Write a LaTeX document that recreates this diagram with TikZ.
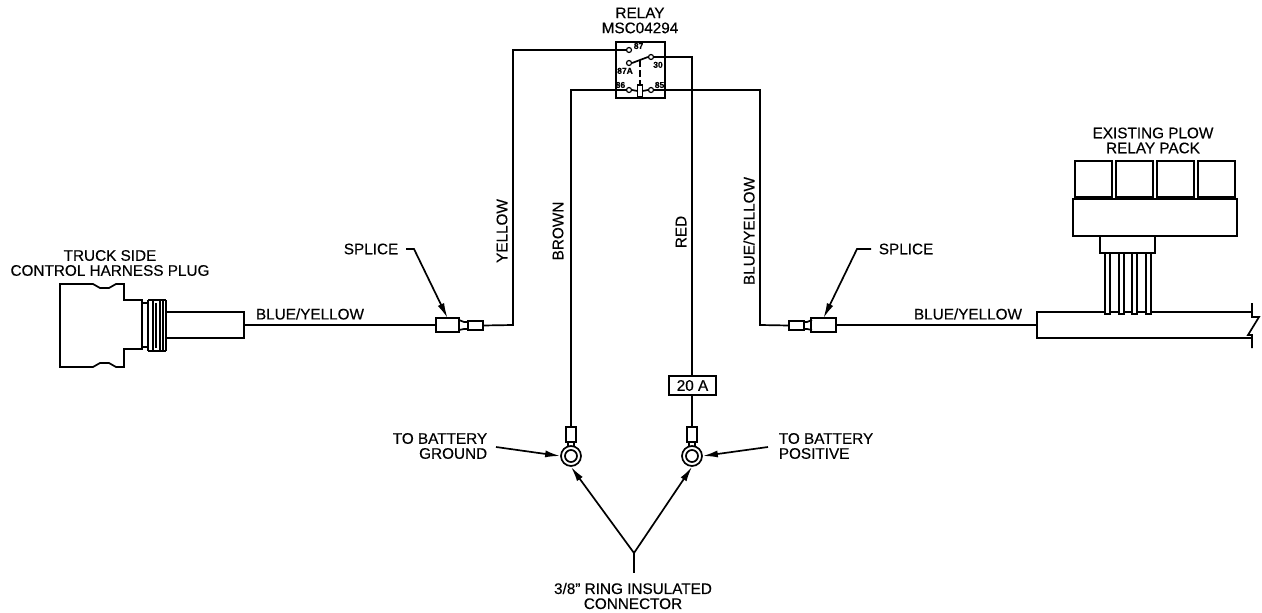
\documentclass[tikz,border=0pt]{standalone}
\usepackage{fontspec}
\setmainfont[FakeBold=0.35]{Liberation Sans}
\usepackage{tikz}
\usetikzlibrary{positioning}
\usetikzlibrary{arrows.meta}
\usetikzlibrary{calc}

\begin{document}
\begin{tikzpicture}[ x = 1pt
                     , y = -1pt
                     , line width = 1.7pt
                     , >={Latex[width=7pt, length=15pt]}
                     , font = \fontsize{15.3}{15}\selectfont
                     ]

    \tikzset{ label/.style = {inner sep=0pt, align=center}
            , tiny/.style = {inner sep=0pt, font=\fontsize{8.5}{8}\selectfont\bfseries}
            , box/.style = {rectangle, draw=black, inner sep=0pt, outer sep=0pt, fill=white}
            , term/.style = {circle, draw=black, fill=white, inner sep=0pt, minimum size=5pt, line width=1.2pt}
            , lug/.style = {box, minimum width=10pt, minimum height=15pt}
            , tab/.style = {box, minimum width=15pt, minimum height=9pt}
            , pin/.style = {box, minimum width=5pt, minimum height=61pt}
            , ring/.style = {circle, draw=black, fill=white, inner sep=0pt, minimum size=20pt}
            , hole/.style = {circle, draw=black, inner sep=0pt, minimum size=12pt}
            , relaycell/.style = {box, minimum width=37pt, minimum height=36pt}}
    \useasboundingbox (0,0) rectangle (1262,613);
    %%
    %% Nodes
    %%
    \node (relay)    [box, minimum width=49pt, minimum height=56pt] at (640.5,70) {};
    \node (relaytxt) [label] at (640,20.5) {RELAY\\MSC04294};
    \node (t87)      [term] at (629,50) {};
    \node (t30)      [term] at (651,57) {};
    \node (t87a)     [term] at (629,63) {};
    \node (t86)      [term] at (629,90) {};
    \node (t85)      [term] at (651,90) {};
    \node (coil)     [box, minimum width=5pt, minimum height=12pt] at (640,91) {};
    \node (l87)      [tiny, anchor=west] at (633,46) {87};
    \node (l30)      [tiny, anchor=north] at (658,61) {30};
    \node (l87a)     [tiny, anchor=north] at (625,67) {87A};
    \node (l86)      [tiny, anchor=east] at (626,85) {86};
    \node (l85)      [tiny, anchor=west] at (654,85) {85};

    \node (truck)    [label] at (110,263) {TRUCK SIDE\\CONTROL HARNESS PLUG};
    \node (cable)    [box, minimum width=78pt, minimum height=26pt] at (205,325) {};

    \node (spliceA)  [box, minimum width=23pt, minimum height=14pt, line width=2pt] at (447.5,325) {};
    \node (tabA)     [tab] at (475.5,325.5) {};
    \node (spliceB)  [box, minimum width=25pt, minimum height=14pt, line width=2pt] at (823.5,325) {};
    \node (tabB)     [tab] at (796.5,325.5) {};
    \node (spltxtA)  [label, anchor=west] at (343,249) {SPLICE};
    \node (spltxtB)  [label, anchor=west] at (878,249) {SPLICE};

    \node (lugG)     [lug] at (571,434.5) {};
    \node (lugP)     [lug] at (692,434.5) {};
    \node (ringG)    [ring] at (571,456) {};
    \node (holeG)    [hole] at (571,456) {};
    \node (ringP)    [ring] at (692,456) {};
    \node (holeP)    [hole] at (692,456) {};
    \node (fuse)     [box, minimum width=47pt, minimum height=19pt] at (692.5,385.5) {20 A};

    \node (gndtxt)   [label, align=right, anchor=east] at (488,446) {TO BATTERY\\GROUND};
    \node (postxt)   [label, align=left, anchor=west] at (778,446) {TO BATTERY\\POSITIVE};
    \node (ringtxt)  [label] at (633,596) {3/8" RING INSULATED\\CONNECTOR};

    \node (packtxt)  [label] at (1153,140.5) {EXISTING PLOW\\RELAY PACK};
    \node (cellA)    [relaycell] at (1093.5,179) {};
    \node (cellB)    [relaycell, right = 4pt of cellA] {};
    \node (cellC)    [relaycell, right = 4pt of cellB] {};
    \node (cellD)    [relaycell, right = 4pt of cellC] {};
    \node (base)     [box, minimum width=164pt, minimum height=37pt] at (1155,217.5) {};
    \node (neck)     [box, minimum width=55pt, minimum height=17pt] at (1127.5,244.5) {};

    \node (ylwtxt)   [label, rotate=90] at (502,231) {YELLOW};
    \node (brntxt)   [label, rotate=90] at (558,231) {BROWN};
    \node (redtxt)   [label, rotate=90] at (681,232) {RED};
    \node (byrtxt)   [label, rotate=90] at (749,231) {BLUE/YELLOW};
    \node (bytxtA)   [label] at (310,314) {BLUE/YELLOW};
    \node (bytxtB)   [label] at (968,314) {BLUE/YELLOW};

    \coordinate (cornerA) at (513,325);
    \coordinate (cornerB) at (760,325);
    \coordinate (cornerC) at (692,57);
    \coordinate (fork)    at (634,553);
    \coordinate (forkend) at (634,573);
    \coordinate (bendA)   at (414,249);
    \coordinate (bendB)   at (857,249);
    \coordinate (gndtail) at (496,447);
    \coordinate (postail) at (768,447);
    \coordinate (busL)    at (1037,312);
    \coordinate (busM)    at (1037,325);
    \coordinate (busB)    at (1037,338);
    \coordinate (busT)    at (1252,312);
    \coordinate (busE)    at (1252,338);
    %%
    %% Plug and other outlines
    %%
    \draw (124,349) -- (124,367) -- (116,367) -- (109,363) -- (100,363) -- (93,367) -- (60,367)
          -- (60,284) -- (93,284) -- (100,288) -- (109,288) -- (116,284) -- (124,284)
          -- (124,300) -- (142,300) -- (142,349) -- cycle;
    \foreach \xa/\ya/\yb in {142/303/347, 148/300/351, 153/300/351, 156/303/348, 160/300/351, 163/300/351, 166/300/351}
      \draw (\xa,\ya) -- (\xa,\yb);
    \draw (148,300) -- (166,300) (148,351) -- (166,351) (142,303) -- (148,303) (142,347) -- (148,347);
    \draw (459,320) -- (464,322) -- (tabA.west |- 0,322) (459,330) -- (464,329) -- (tabA.west |- 0,329);
    \draw (812,320) -- (807,322) -- (tabB.east |- 0,322) (812,330) -- (807,329) -- (tabB.east |- 0,329);
    \draw (busM) -- (busL) -- (busT) (busM) -- (busB) -- (busE);
    \draw (1252,303) -- (1252,317) -- (1259,317) -- (1248,335) -- (1252,335) -- (1252,348);
    \foreach \px in {1107.5,1121.5,1134.5,1148.5}
      \node (pin\px) [pin] at (\px,283.5) {};
    %%
    %% Wires
    %%
    \draw (cable.east) -- (spliceA.west);
    \draw (tabA.east) -- (cornerA) |- (t87.west);
    \draw (tabB.west) -- (cornerB) |- (t85.east);
    \draw (spliceB.east) -- (busM);
    \draw (t86.west) -| (lugG.north);
    \draw (t30.east) -- (cornerC) -- (cornerC |- fuse.north);
    \draw (cornerC |- fuse.south) -- (lugP.north);
    \draw (t87a.east) -- (t30.west);
    \draw[dash pattern=on 7pt off 3pt] (640,60) -- (coil.north);
    \draw (t86.east) -- (coil.west) (coil.east) -- (t85.west);
    \draw (lugG.south) ++(-3,0) -- ++(0,5) (lugG.south) ++(3,0) -- ++(0,5);
    \draw (lugP.south) ++(-3,0) -- ++(0,5) (lugP.south) ++(3,0) -- ++(0,5);
    %%
    %% Leaders
    %%
    \draw[->] (spltxtA.east) ++(7,0) -- (bendA) -- (spliceA.north);
    \draw[->] (spltxtB.west) ++(-7,0) -- (bendB) -- (spliceB.north);
    \draw[->] (gndtail) -- (ringG.west);
    \draw[->] (postail) -- (ringP.east);
    \draw[->] (fork) -- (ringG.south);
    \draw[->] (fork) -- (ringP.south);
    \draw (fork) -- (forkend);
\end{tikzpicture}
\end{document}
